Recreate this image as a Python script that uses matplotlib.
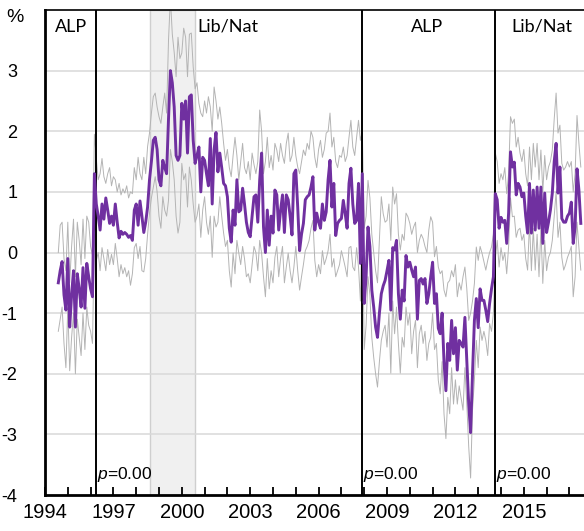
import numpy as np
import matplotlib
matplotlib.use("Agg")
import matplotlib.pyplot as plt
from matplotlib.ticker import MultipleLocator

plt.rcParams['font.family'] = ['Liberation Sans', 'DejaVu Sans']
plt.rcParams['mathtext.fontset'] = 'custom'
plt.rcParams['mathtext.it'] = 'Liberation Sans:italic'
plt.rcParams['mathtext.rm'] = 'Liberation Sans'
plt.rcParams['axes.unicode_minus'] = False

# monthly series, Aug 1994 .. Jul 2017
start_year = 1994
start_month = 8

mean_vals = [
    -0.5, -0.3, -0.15, -0.7, -0.95, -0.1, -1.23, -0.7, -0.3, -1.23,
    -0.35, -0.6, -0.9, -0.25, -0.92, -0.18, -0.4, -0.6, -0.73, 1.3,
    0.8, 0.6, 0.37, 0.8, 0.55, 0.9, 0.7, 0.48, 0.6, 0.45,
    0.8, 0.5, 0.24, 0.35, 0.3, 0.33, 0.3, 0.25, 0.28, 0.2,
    0.7, 0.8, 0.45, 0.85, 0.6, 0.33, 0.5, 0.75, 1.2, 1.5,
    1.85, 1.9, 1.7, 1.2, 1.1, 1.52, 1.4, 1.3, 2.2, 3.0,
    2.8, 2.4, 1.6, 1.52, 1.6, 2.46, 2.2, 2.5, 1.64, 2.57,
    2.6, 1.85, 1.47, 1.6, 1.74, 1.0, 1.57, 1.52, 1.3, 1.1,
    1.88, 0.8, 1.7, 1.98, 1.33, 1.64, 1.4, 1.14, 1.1, 0.92,
    0.4, 0.17, 0.7, 0.45, 1.2, 0.67, 0.7, 1.06, 0.8, 0.5,
    0.33, 0.26, 0.6, 0.92, 0.95, 0.5, 1.2, 1.64, 0.42, 0.0,
    0.7, 0.12, 0.6, 0.32, 1.03, 0.95, 0.37, 0.7, 0.95, 0.33,
    0.95, 0.87, 0.6, 0.29, 1.3, 1.36, 0.75, 0.03, 0.3, 0.48,
    0.87, 0.92, 0.95, 1.08, 1.25, 0.37, 0.65, 0.5, 0.4, 0.8,
    0.53, 0.67, 1.2, 1.52, 0.75, 1.14, 0.28, 0.48, 0.53, 0.56,
    0.86, 0.64, 0.4, 1.14, 1.39, 0.8, 0.48, 0.53, 1.14, -0.18,
    1.3, -0.84, -0.4, 0.42, 0.1, -0.62, -0.9, -1.23, -1.4, -1.0,
    -0.68, -0.55, -0.46, -0.3, -0.13, -0.95, 0.08, 0.04, 0.2, -0.68,
    -1.1, -0.62, -0.8, -0.05, -0.24, -0.16, -0.29, -0.4, -0.24, -1.1,
    -0.46, -0.43, -0.52, -0.43, -0.84, -0.68, -0.4, -0.16, -0.84, -0.68,
    -1.25, -1.34, -1.0, -1.8, -2.28, -1.5, -1.78, -1.12, -1.67, -1.24,
    -1.94, -1.45, -1.5, -1.56, -1.07, -1.78, -2.5, -2.97, -2.0, -1.12,
    -0.76, -1.24, -0.6, -0.79, -0.79, -0.95, -1.14, -0.84, -0.6, -0.4,
    0.97, 0.87, 0.4, 0.58, 0.5, 0.53, 0.15, 0.65, 1.66, 1.41,
    1.49, 0.95, 1.14, 1.08, 0.92, 0.98, 0.6, 0.32, 1.14, 0.32,
    1.03, 0.37, 1.08, 0.4, 1.08, 0.15, 0.98, 0.33, 0.5, 0.7,
    0.98, 1.5, 1.8, 0.98, 1.41, 0.56, 0.5, 0.5, 0.6, 0.65,
    0.83, 0.15, 0.42, 1.38, 1.03, 0.48,
]

upper_vals = [
    0.0, 0.45, 0.5, -0.1, -0.3, 0.5, -0.5, 0.1, 0.55, -0.4,
    0.5, 0.2, -0.2, 0.55, -0.1, 0.6, 0.5, 0.1, -0.05, 1.95,
    1.55, 1.2, 1.3, 1.55, 1.25, 1.14, 1.3, 1.4, 1.1, 1.25,
    1.2, 1.0, 1.14, 0.95, 1.05, 0.98, 1.1, 0.9, 1.0, 0.97,
    1.4, 1.2, 1.57, 1.3, 1.2, 1.57, 1.3, 1.75, 1.97, 2.3,
    2.57, 2.63, 2.4, 2.24, 2.13, 2.4, 2.63, 2.3, 3.5, 4.2,
    3.6, 3.3, 2.9, 3.55, 3.2, 3.29, 3.7, 3.55, 2.9, 3.6,
    3.62, 3.06, 2.7, 2.8, 2.46, 2.3, 2.24, 2.5, 2.3, 2.57,
    2.4, 2.0, 2.73, 2.5, 2.2, 2.4, 2.13, 1.8, 1.52, 1.7,
    1.4, 1.25, 1.6, 1.9, 1.6, 1.2, 1.5, 1.8, 1.4, 1.3,
    1.5, 1.2, 1.64, 1.45, 1.3, 1.5, 2.35, 2.0, 1.3, 1.5,
    1.9, 1.4, 1.6, 1.36, 1.8, 1.69, 1.5, 1.8, 1.6, 1.47,
    1.8, 1.97, 1.5, 1.6, 1.9, 1.6, 1.41, 1.3, 1.5, 1.69,
    1.6, 1.8, 1.7, 2.0, 1.9, 1.57, 1.4, 1.7, 1.85, 1.57,
    1.7, 1.97, 2.0, 2.3, 1.74, 1.9, 1.5, 1.4, 1.6, 1.57,
    1.74, 1.5, 1.6, 1.9, 2.18, 1.74, 1.6, 1.9, 2.18, 1.85,
    2.0, 0.4, 0.6, 1.19, 0.9, 0.3, 0.0, -0.3, -0.5, 0.2,
    0.92, 0.64, 0.5, 0.53, 0.8, 0.2, 1.08, 0.8, 0.97, 0.3,
    0.04, 0.3, 0.2, 0.65, 0.59, 0.48, 0.3, 0.42, 0.5, 0.0,
    0.2, 0.3, 0.23, 0.1, 0.0, 0.37, 0.59, 0.5, -0.07, 0.1,
    -0.24, -0.35, -0.3, -0.62, -0.73, -0.5, -0.46, -0.3, -0.4, -0.2,
    -0.73, -0.5, -0.62, -0.4, -0.24, -0.6, -1.12, -1.0, -0.8, -0.51,
    0.09, -0.13, 0.1, -0.01, -0.15, -0.29, -0.13, 0.0, 0.09, 0.3,
    1.64, 1.5, 1.14, 1.3, 1.2, 1.4, 0.97, 1.3, 2.24, 2.13,
    2.2, 1.74, 1.9, 1.64, 1.5, 1.7, 1.3, 1.1, 1.74, 1.2,
    1.8, 1.41, 1.8, 1.2, 1.69, 1.0, 1.6, 1.2, 1.41, 1.5,
    1.69, 2.2, 2.63, 1.97, 2.1, 1.47, 1.36, 1.41, 1.5, 1.41,
    1.5, 1.0, 1.3, 2.26, 1.8, 1.41,
]

lower_vals = [
    -1.3, -1.1, -0.9, -1.5, -1.9, -0.9, -1.95, -1.4, -1.0, -2.0,
    -1.1, -1.4, -1.7, -1.0, -1.6, -0.9, -1.2, -1.3, -1.5, 0.3,
    -0.13, 0.0, -0.3, 0.08, -0.1, -0.3, 0.05, -0.2, -0.03, -0.2,
    0.15, -0.1, -0.4, -0.2, -0.35, -0.25, -0.4, -0.3, -0.54, -0.35,
    0.08, 0.15, -0.1, 0.1, -0.3, -0.32, -0.1, 0.3, 0.65, 0.9,
    1.08, 1.25, 1.0, 0.6, 0.4, 0.92, 0.7, 0.6, 0.86, 1.7,
    1.5, 1.2, 0.6, 0.32, 0.5, 1.47, 1.2, 1.3, 0.75, 1.41,
    1.19, 0.8, 0.5, 0.6, 0.8, 0.25, 0.7, 0.92, 0.5, 0.3,
    0.6, -0.08, 0.6, 0.42, 0.5, 0.92, 0.6, 0.32, 0.1, 0.2,
    -0.3, -0.57, -0.01, -0.35, 0.2, -0.01, -0.2, 0.1, -0.1, -0.4,
    -0.35, -0.5, -0.2, 0.1, 0.0, -0.3, 0.2, -0.01, -0.4, -0.73,
    -0.1, -0.6, -0.3, -0.5, -0.08, 0.1, -0.4, -0.1, 0.1, -0.5,
    -0.24, -0.01, -0.3, -0.5, -0.24, 0.1, -0.3, -0.62, -0.4, -0.2,
    0.03, 0.1, 0.2, 0.4, 0.53, -0.13, -0.4, -0.2, -0.35, 0.03,
    -0.2, -0.1, 0.03, 0.3, -0.24, -0.1, -0.4, -0.3, -0.2, 0.03,
    -0.1, -0.24, -0.4, 0.08, 0.1, -0.24, -0.3, 0.08, -0.24, -0.8,
    0.6, -1.6, -1.2, -0.4, -0.7, -1.4, -1.73, -2.0, -2.22, -1.8,
    -1.45, -1.3, -1.2, -1.56, -1.0, -1.99, -0.8, -1.34, -0.9, -1.5,
    -1.99, -1.4, -1.56, -0.9, -1.2, -1.0, -1.67, -1.3, -1.12, -1.9,
    -1.34, -1.2, -1.5, -1.3, -1.78, -1.5, -1.4, -1.0, -1.6, -1.5,
    -2.11, -2.33, -1.8, -2.66, -3.07, -2.39, -2.66, -1.9, -2.5, -2.1,
    -2.5, -2.2, -2.4, -2.6, -1.9, -2.5, -3.2, -3.72, -2.6, -2.1,
    -1.45, -1.9, -1.23, -1.45, -1.3, -1.45, -1.7, -1.17, -1.3, -1.0,
    -0.1, 0.2, -0.24, 0.08, -0.13, 0.0, -0.35, 0.1, 0.9, 0.59,
    0.6, 0.25, 0.37, 0.4, 0.2, 0.3, -0.1, -0.29, 0.5, -0.3,
    0.4, -0.29, 0.3, -0.4, 0.4, -0.51, 0.2, -0.3, -0.08, 0.0,
    0.2, 0.6, 1.0, 0.25, 0.5, -0.08, -0.29, -0.2, -0.08, 0.0,
    0.1, -0.73, -0.4, 0.5, 0.08, -0.29,
]

# changes of government and labels
elections = [1996.22, 2007.89, 2013.72]
gov_labels = ["ALP", "Lib/Nat", "ALP", "Lib/Nat"]
gov_label_x = [1995.15, 2002.0, 2010.75, 2015.78]
p_labels = ["0.00", "0.00", "0.00"]
shade_start, shade_end = 1998.62, 2000.6
year_ticks = list(range(1994, 2018, 3))

n = len(mean_vals)
t = start_year + (start_month - 1 + np.arange(n)) / 12.0

fig = plt.figure(figsize=(5.84, 5.31), dpi=100)
ax = fig.add_axes([45 / 584, 1 - 495 / 531, 1 - 45 / 584, (495 - 10) / 531])

ax.axvspan(shade_start, shade_end, facecolor='#f0f0f0', edgecolor='#cfcfcf', lw=1, zorder=0)
for yv in range(-3, 4):
    ax.axhline(yv, color='#d9d9d9', lw=1.1, zorder=0.5)

ax.plot(t, upper_vals, color='#b4b4b4', lw=0.7, zorder=2)
ax.plot(t, lower_vals, color='#b4b4b4', lw=0.7, zorder=2)
for e in elections:
    ax.axvline(e, color='black', lw=1.4, zorder=3)
ax.plot(t, mean_vals, color='#7030a0', lw=2.1, zorder=4)

for lab, xl in zip(gov_labels, gov_label_x):
    ax.text(xl, 3.72, lab, ha='center', va='center', fontsize=13, family=['Lato', 'DejaVu Sans'])
for e, p in zip(elections, p_labels):
    ax.text(e + 0.05, -3.73, r'$p$=' + p, ha='left', va='baseline', fontsize=12.5)

ax.set_xlim(1994, 2017.64)
ax.set_ylim(-4, 4)
ax.set_xticks(year_ticks)
ax.xaxis.set_minor_locator(MultipleLocator(1))
ax.set_yticks(range(-4, 4))
ax.tick_params(axis='x', which='both', direction='in', length=6, width=1.3, labelsize=14.5, pad=6)
ax.tick_params(axis='y', length=0, labelsize=13, pad=20)

for s in ['left', 'bottom']:
    ax.spines[s].set_linewidth(2)
ax.spines['top'].set_linewidth(1.2)
ax.spines['right'].set_visible(False)

fig.text(15 / 584, 1 - 18 / 531, '%', ha='center', va='center', fontsize=14)

plt.savefig('out.png', dpi=100)
